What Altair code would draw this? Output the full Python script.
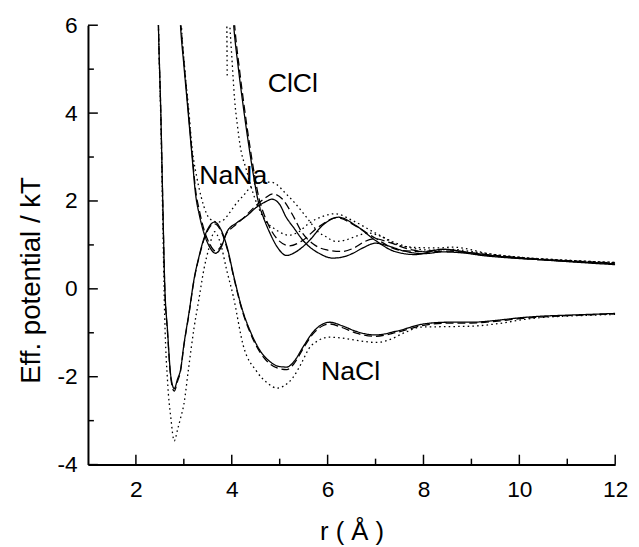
import altair as alt
import pandas as pd

# ---------------- data ----------------
nacl_solid_r = [2.43, 2.47, 2.52, 2.56, 2.60, 2.66, 2.73, 2.80, 2.87, 2.93, 3.00, 3.11, 3.21, 3.32, 3.42, 3.53,
                3.64, 3.76, 3.90, 4.05, 4.20, 4.40, 4.60, 4.80, 5.00, 5.15, 5.30, 5.50, 5.70, 5.90, 6.05,
                6.30, 6.60, 7.00, 7.45, 8.00, 8.50, 9.00, 9.50, 10.00, 10.50, 11.00, 11.50, 12.00]
nacl_solid_v = [8.5, 6.0, 4.0, 2.0, 0.15, -0.95, -2.0, -2.27, -2.05, -1.85, -1.28, -0.53, 0.2, 0.75, 1.15, 1.42,
                1.52, 1.38, 0.96, 0.25, -0.4, -1.0, -1.42, -1.66, -1.77, -1.78, -1.65, -1.3, -0.98, -0.8, -0.76,
                -0.84, -0.97, -1.05, -0.96, -0.8, -0.76, -0.76, -0.72, -0.66, -0.62, -0.6, -0.58, -0.56]

nacl_dash_r = [2.43, 2.47, 2.52, 2.56, 2.60, 2.66, 2.73, 2.80, 2.87, 2.93, 3.00, 3.11, 3.21, 3.32, 3.42, 3.53,
               3.64, 3.76, 3.90, 4.05, 4.20, 4.40, 4.60, 4.80, 5.00, 5.15, 5.30, 5.50, 5.70, 5.90, 6.05,
               6.30, 6.60, 7.00, 7.45, 8.00, 8.50, 9.00, 9.50, 10.00, 10.50, 11.00, 11.50, 12.00]
nacl_dash_v = [8.5, 6.0, 4.0, 2.0, 0.12, -1.0, -2.05, -2.33, -2.1, -1.88, -1.3, -0.56, 0.18, 0.73, 1.12, 1.39,
               1.48, 1.35, 0.93, 0.22, -0.43, -1.04, -1.46, -1.71, -1.82, -1.84, -1.7, -1.34, -1.02, -0.84, -0.8,
               -0.88, -1.01, -1.08, -0.99, -0.83, -0.78, -0.78, -0.74, -0.68, -0.64, -0.61, -0.59, -0.57]

nacl_dot_r = [2.43, 2.47, 2.52, 2.56, 2.60, 2.66, 2.73, 2.80, 2.87, 2.93, 3.00, 3.10, 3.21, 3.32, 3.42, 3.53,
              3.64, 3.76, 3.90, 4.03, 4.24, 4.52, 4.75, 4.95, 5.10, 5.27, 5.45, 5.61, 5.80, 6.03,
              6.30, 6.60, 7.00, 7.26, 7.60, 7.95, 8.50, 9.00, 9.50, 10.15, 10.50, 11.00, 11.50, 12.00]
nacl_dot_v = [8.5, 6.0, 3.8, 1.6, -0.6, -2.1, -2.95, -3.46, -3.2, -2.95, -2.63, -1.8, -0.91, -0.2, 0.45, 0.95,
              1.3, 1.05, 0.4, -0.16, -1.29, -1.88, -2.15, -2.26, -2.2, -2.03, -1.7, -1.36, -1.18, -1.1,
              -1.12, -1.17, -1.22, -1.17, -1.0, -0.87, -0.86, -0.85, -0.8, -0.69, -0.65, -0.62, -0.6, -0.58]

nana_solid_r = [2.90, 2.93, 3.00, 3.07, 3.18, 3.24, 3.33, 3.42, 3.54, 3.66, 3.78, 3.90, 4.10, 4.30, 4.52, 4.70,
                4.84, 5.00, 5.13, 5.30, 5.48, 5.65, 5.82, 6.10, 6.30, 6.51, 6.75, 7.00, 7.25, 7.60, 8.00,
                8.40, 8.80, 9.30, 10.00, 10.70, 11.30, 12.00]
nana_solid_v = [6.6, 6.0, 5.1, 4.26, 2.91, 2.2, 1.65, 1.27, 0.95, 0.81, 0.95, 1.3, 1.5, 1.65, 1.86, 1.98,
                2.04, 1.92, 1.64, 1.38, 1.11, 0.93, 0.81, 0.7, 0.72, 0.8, 0.94, 1.04, 0.98, 0.86, 0.8,
                0.84, 0.82, 0.75, 0.69, 0.65, 0.61, 0.57]

nana_dash_r = [2.90, 2.94, 3.00, 3.07, 3.18, 3.24, 3.33, 3.42, 3.54, 3.66, 3.78, 3.90, 4.03, 4.25, 4.47, 4.70,
               4.86, 5.05, 5.25, 5.48, 5.70, 5.96, 6.30, 6.55, 6.78, 7.00, 7.30, 7.70, 8.10, 8.50, 9.00,
               9.50, 10.00, 11.00, 12.00]
nana_dash_v = [6.6, 6.0, 5.2, 4.35, 3.0, 2.3, 1.75, 1.35, 1.02, 0.86, 0.98, 1.28, 1.41, 1.62, 1.86, 2.07,
               2.16, 2.05, 1.72, 1.26, 1.02, 0.89, 0.85, 0.93, 1.08, 1.14, 1.05, 0.9, 0.84, 0.86, 0.82,
               0.76, 0.71, 0.64, 0.59]

nana_dot_r = [2.92, 2.95, 3.02, 3.10, 3.18, 3.26, 3.36, 3.48, 3.60, 3.72, 3.84, 3.96, 4.10, 4.24, 4.48, 4.65,
              4.80, 4.93, 5.10, 5.27, 5.45, 5.61, 5.80, 5.96, 6.17, 6.37, 6.60, 6.85, 7.10, 7.40, 7.80,
              8.20, 8.60, 9.00, 9.50, 10.00, 11.00, 12.00]
nana_dot_v = [6.8, 6.0, 5.0, 4.1, 3.13, 2.6, 2.1, 1.7, 1.55, 1.52, 1.58, 1.74, 1.95, 2.12, 2.39, 2.42,
              2.43, 2.38, 2.2, 2.01, 1.78, 1.56, 1.3, 1.19, 1.08, 1.11, 1.2, 1.27, 1.2, 1.05, 0.92,
              0.88, 0.9, 0.85, 0.78, 0.72, 0.65, 0.6]

clcl_solid_r = [4.00, 4.04, 4.14, 4.24, 4.35, 4.45, 4.55, 4.67, 4.80, 4.95, 5.14, 5.35, 5.62, 5.90, 6.23,
                6.59, 7.00, 7.40, 7.83, 8.40, 9.00, 9.50, 10.00, 11.00, 12.00]
clcl_solid_v = [6.6, 6.0, 5.0, 4.15, 3.3, 2.6, 2.0, 1.6, 1.26, 0.95, 0.76, 0.85, 1.1, 1.45, 1.63,
                1.44, 1.1, 0.85, 0.78, 0.9, 0.82, 0.75, 0.7, 0.62, 0.55]

clcl_dash_r = [4.02, 4.06, 4.16, 4.26, 4.37, 4.47, 4.57, 4.70, 4.84, 5.00, 5.20, 5.45, 5.80, 6.20, 6.60,
               7.00, 7.50, 8.00, 8.40, 9.00, 10.00, 11.00, 12.00]
clcl_dash_v = [6.6, 6.0, 5.0, 4.15, 3.3, 2.62, 2.05, 1.62, 1.3, 1.08, 0.98, 1.08, 1.4, 1.62, 1.42,
               1.15, 0.88, 0.85, 0.9, 0.8, 0.7, 0.63, 0.57]

clcl_dot_r = [3.93, 3.96, 4.00, 4.06, 4.12, 4.17, 4.31, 4.45, 4.65, 4.93, 5.20, 5.40, 5.61, 5.90, 6.16,
              6.51, 7.00, 7.61, 8.30, 8.60, 9.46, 10.00, 11.00, 12.00]
clcl_dot_v = [6.7, 6.0, 5.3, 4.3, 3.7, 3.29, 2.69, 2.16, 1.64, 1.34, 1.22, 1.3, 1.49, 1.65, 1.71,
              1.56, 1.27, 0.96, 0.93, 0.95, 0.78, 0.72, 0.65, 0.6]

clcl_dot2_r = [3.895, 3.905]
clcl_dot2_v = [6.4, 4.8]

label_text = ["ClCl", "NaNa", "NaCl"]
label_r = [4.75, 3.32, 5.86]
label_v = [4.47, 2.39, -2.08]

x_major = [2, 4, 6, 8, 10, 12]
x_minor = [3, 5, 7, 9, 11]
y_major = [-4, -2, 0, 2, 4, 6]
y_minor = [-3, -1, 1, 3, 5]

# ---------------- tables ----------------
series = [
    ("NaCl solid", "solid", nacl_solid_r, nacl_solid_v),
    ("NaCl dashed", "dashed", nacl_dash_r, nacl_dash_v),
    ("NaCl dotted", "dotted", nacl_dot_r, nacl_dot_v),
    ("NaNa solid", "solid", nana_solid_r, nana_solid_v),
    ("NaNa dashed", "dashed", nana_dash_r, nana_dash_v),
    ("NaNa dotted", "dotted", nana_dot_r, nana_dot_v),
    ("ClCl solid", "solid", clcl_solid_r, clcl_solid_v),
    ("ClCl dashed", "dashed", clcl_dash_r, clcl_dash_v),
    ("ClCl dotted", "dotted", clcl_dot_r, clcl_dot_v),
    ("ClCl dotted 2", "dotted", clcl_dot2_r, clcl_dot2_v),
]
rows = []
for name, style, rs, vs in series:
    for r, v in zip(rs, vs):
        rows.append({"r": r, "v": v, "series": name, "style": style})
df = pd.DataFrame(rows)

labels_df = pd.DataFrame({"r": label_r, "v": label_v, "label": label_text})

FONT = "Liberation Sans"
xscale = alt.Scale(domain=[1, 12], nice=False, zero=False)
yscale = alt.Scale(domain=[-4, 6], nice=False, zero=False)

x_axis = alt.Axis(values=x_major, ticks=False, tickSize=0, grid=False, domainColor="black", domainWidth=2,
                  labelFont=FONT, labelFontSize=23, labelColor="black", labelPadding=14,
                  labelExpr="'' + datum.value", labelFlush=False, labelOverlap=False,
                  title="r ( Å )", titleFont=FONT, titleFontSize=26, titleFontWeight="normal",
                  titleColor="black", titleX=267, titleY=76, titleBaseline="alphabetic", titleAlign="center")
y_axis = alt.Axis(values=y_major, ticks=False, tickSize=0, grid=False, domainColor="black", domainWidth=2,
                  labelFont=FONT, labelFontSize=23, labelColor="black", labelPadding=11,
                  labelExpr="'' + datum.value", labelFlush=False, labelOverlap=False,
                  title="Eff. potential / kT", titleFont=FONT, titleFontSize=28, titleFontWeight="normal",
                  titleColor="black", titleAngle=270, titleX=-49, titleY=258, titleBaseline="alphabetic",
                  titleAlign="center")

X = lambda: alt.X("r:Q", scale=xscale, axis=x_axis)
Y = lambda: alt.Y("v:Q", scale=yscale, axis=y_axis)

lines = alt.Chart(df).mark_line(clip=True, strokeWidth=1.3, color="black", interpolate="monotone").encode(
    x=X(),
    y=Y(),
    detail="series:N",
    strokeDash=alt.StrokeDash("style:N",
                              scale=alt.Scale(domain=["solid", "dashed", "dotted"],
                                              range=[[1, 0], [8, 4], [1.6, 3.2]]),
                              legend=None),
)

texts = alt.Chart(labels_df).mark_text(align="left", baseline="alphabetic", font=FONT, fontSize=27,
                                       color="black").encode(
    x=X(),
    y=Y(),
    text="label:N",
)

ymaj = alt.Chart(pd.DataFrame({"v": y_major})).mark_rule(color="black", strokeWidth=1.5).encode(
    y=Y(), x=alt.value(0), x2=alt.value(10))
ymin = alt.Chart(pd.DataFrame({"v": y_minor})).mark_rule(color="black", strokeWidth=1.5).encode(
    y=Y(), x=alt.value(0), x2=alt.value(6))
xmaj = alt.Chart(pd.DataFrame({"r": x_major})).mark_rule(color="black", strokeWidth=1.5).encode(
    x=X(), y=alt.value(445), y2=alt.value(435))
xmin = alt.Chart(pd.DataFrame({"r": x_minor})).mark_rule(color="black", strokeWidth=1.5).encode(
    x=X(), y=alt.value(445), y2=alt.value(439))

chart = alt.layer(lines, texts, ymaj, ymin, xmaj, xmin).properties(
    width=534, height=445,
    autosize=alt.AutoSizeParams(type="none"),
    padding={"left": 81, "top": 14, "right": 16, "bottom": 78},
    background="white",
).configure_view(stroke=None)

chart.save("out.html", embed_options={"renderer": "svg", "actions": False})
